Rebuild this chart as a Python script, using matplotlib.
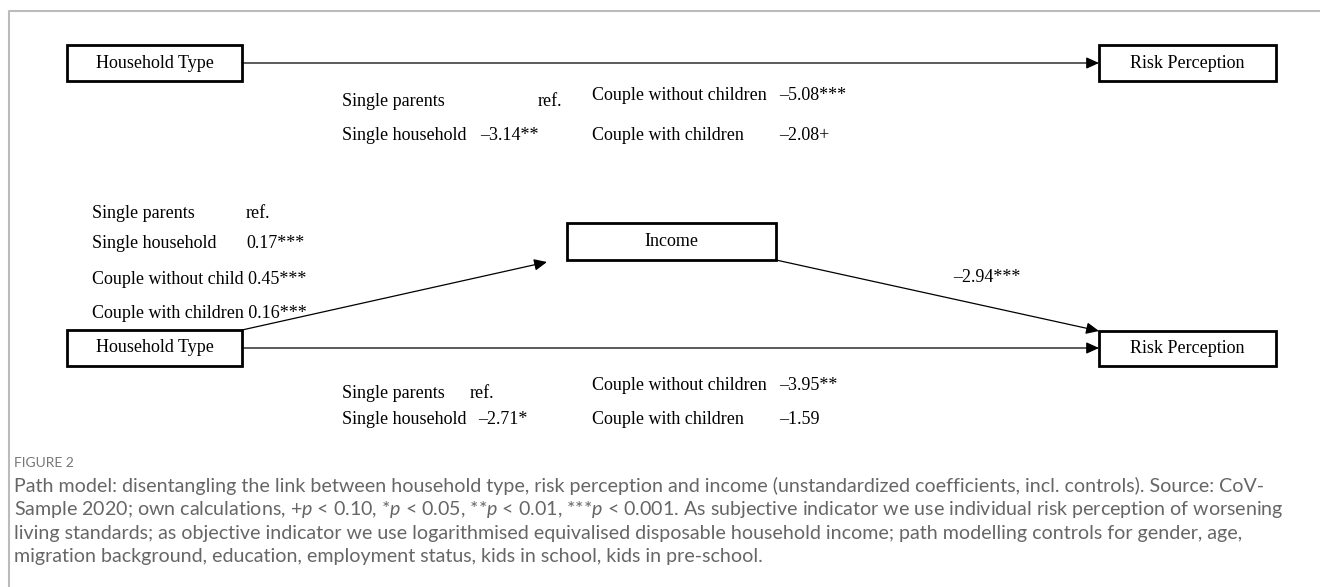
import matplotlib
matplotlib.use("Agg")
import matplotlib.pyplot as plt
from matplotlib.patches import Rectangle

# path model coefficients (as printed in the figure)
direct_labels = ["Single parents", "Single household"]
direct_values = ["ref.", "–3.14**"]
direct_labels_2 = ["Couple without children", "Couple with children"]
direct_values_2 = ["–5.08***", "–2.08+"]

income_labels = ["Single parents", "Single household",
                 "Couple without child", "Couple with children"]
income_values = ["ref.", "0.17***", "0.45***", "0.16***"]
income_to_risk = "–2.94***"

mediated_labels = ["Single parents", "Single household"]
mediated_values = ["ref.", "–2.71*"]
mediated_labels_2 = ["Couple without children", "Couple with children"]
mediated_values_2 = ["–3.95**", "–1.59"]

figure_tag = "FIGURE 2"
caption_lines = [
    "Path model: disentangling the link between household type, risk perception and income (unstandardized coefficients, incl. controls). Source: CoV-",
    r"Sample 2020; own calculations, +$\mathit{p}$ < 0.10, *$\mathit{p}$ < 0.05, **$\mathit{p}$ < 0.01, ***$\mathit{p}$ < 0.001. As subjective indicator we use individual risk perception of worsening",
    "living standards; as objective indicator we use logarithmised equivalised disposable household income; path modelling controls for gender, age,",
    "migration background, education, employment status, kids in school, kids in pre-school.",
]

plt.rcParams["mathtext.fontset"] = "custom"
plt.rcParams["mathtext.rm"] = "Lato"
plt.rcParams["mathtext.it"] = "Lato:italic"

SERIF = "Liberation Serif"
FS = 13

fig = plt.figure(figsize=(13.2, 5.87), dpi=100)
ax = fig.add_axes([0, 0, 1, 1])
ax.set_xlim(0, 1320)
ax.set_ylim(587, 0)
ax.axis("off")

# light frame around the figure
ax.plot([9, 9, 1320], [587, 11, 11], color="#bbbbbb", lw=1.5, solid_capstyle="butt")


def box(x0, y0, x1, y1, label):
    ax.add_patch(Rectangle((x0, y0), x1 - x0, y1 - y0, fill=False,
                           edgecolor="black", lw=2))
    ax.text((x0 + x1) / 2, (y0 + y1) / 2, label, family=SERIF, fontsize=FS,
            ha="center", va="center")


def arrow(start, end):
    ax.annotate("", xy=end, xytext=start,
                arrowprops=dict(arrowstyle="-|>,head_length=0.55,head_width=0.25",
                                color="black", lw=0.9, mutation_scale=14,
                                shrinkA=0, shrinkB=0))


def txt(x, y, s, ha="left"):
    ax.text(x, y, s, family=SERIF, fontsize=FS, ha=ha, va="center")


# --- top panel: total effect ---
box(67, 45, 242, 81, "Household Type")
box(1099, 45, 1276, 81, "Risk Perception")
arrow((242, 63), (1099, 63))

txt(342, 102, direct_labels[0])
txt(562, 102, direct_values[0], ha="right")
txt(342, 136, direct_labels[1])
txt(480, 136, direct_values[1])
txt(592, 96, direct_labels_2[0])
txt(779, 96, direct_values_2[0])
txt(592, 136, direct_labels_2[1])
txt(779, 136, direct_values_2[1])

# --- lower panel: mediation through income ---
for lab, val, y in zip(income_labels, income_values, [213, 243, 279, 313]):
    if lab.startswith("Couple"):
        txt(92, y, lab + " " + val)
    else:
        txt(92, y, lab)
        txt(246, y, val)

box(567, 223, 776, 260, "Income")
box(67, 330, 242, 366, "Household Type")
box(1099, 331, 1276, 366, "Risk Perception")

arrow((242, 330), (547, 262))
arrow((776, 260), (1099, 331))
arrow((242, 348), (1099, 348))
txt(953, 277, income_to_risk)

txt(342, 393, mediated_labels[0])
txt(470, 393, mediated_values[0])
txt(342, 419, mediated_labels[1])
txt(478, 419, mediated_values[1])
txt(592, 385, mediated_labels_2[0])
txt(779, 385, mediated_values_2[0])
txt(592, 419, mediated_labels_2[1])
txt(779, 419, mediated_values_2[1])

# --- caption ---
ax.text(14, 463, figure_tag, family="Lato", fontsize=10, color="#777777",
        ha="left", va="center")
for i, line in enumerate(caption_lines):
    ax.text(14, 486 + i * 23.5, line, family="Lato", fontsize=14.1,
            color="#666666", ha="left", va="center")

fig.savefig("out.png", dpi=100)
